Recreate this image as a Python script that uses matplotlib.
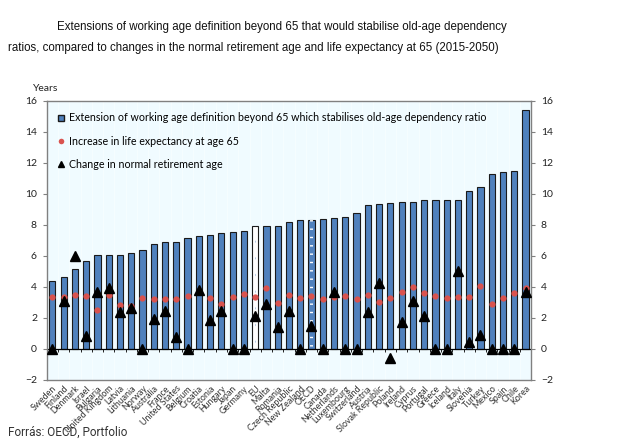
import numpy as np
import matplotlib
matplotlib.use("Agg")
import matplotlib.pyplot as plt
from matplotlib.lines import Line2D

# Données (années)
pays = ["Sweden", "Finland", "Denmark", "Israel", "Bulgaria", "United Kingdom",
        "Latvia", "Lithuania", "Norway", "Australia", "France", "United States",
        "Belgium", "Croatia", "Estonia", "Hungary", "Japan", "Germany", "EU",
        "Malta", "Romania", "Czech Republic", "New Zealand", "OECD", "Canada",
        "Netherlands", "Luxembourg", "Switzerland", "Austria", "Slovak Republic",
        "Poland", "Ireland", "Cyprus", "Portugal", "Greece", "Iceland", "Italy",
        "Slovenia", "Turkey", "Mexico", "Spain", "Chile", "Korea"]

extension = [4.39, 4.65, 5.16, 5.68, 6.06, 6.08, 6.08, 6.2, 6.39, 6.77, 6.9, 6.9,
             7.16, 7.31, 7.35, 7.46, 7.57, 7.63, 7.92, 7.92, 7.92, 8.19, 8.3, 8.34,
             8.36, 8.42, 8.48, 8.75, 9.27, 9.35, 9.4, 9.5, 9.5, 9.63, 9.63, 9.63,
             9.63, 10.21, 10.43, 11.27, 11.4, 11.5, 15.42]

esperance_vie = [3.37, 3.37, 3.48, 3.44, 2.52, 3.48, 2.82, 2.75, 3.31, 3.2, 3.2, 3.2,
                 3.44, 3.7, 3.27, 2.88, 3.33, 3.55, 3.33, 3.91, 2.95, 3.5, 3.29, 3.4,
                 3.23, 3.33, 3.4, 3.23, 3.5, 3.0, 3.27, 3.66, 4.02, 3.63, 3.44, 3.27,
                 3.38, 3.38, 4.06, 2.88, 3.27, 3.63, 3.92]

age_retraite = [0, 3.1, 6.0, 0.84, 3.66, 3.9, 2.41, 2.62, 0, 1.91, 2.45, 0.8,
                0, 3.8, 1.85, 2.43, 0, 0, 2.13, 2.88, 1.44, 2.47, 0, 1.48,
                0, 3.7, 0, 0, 2.41, 4.26, -0.56, 1.76, 3.1, 2.13, 0, 0,
                5.05, 0.43, 0.88, 0, 0, 0, 3.7]

titre_1 = "Extensions of working age definition beyond 65 that would stabilise old-age dependency"
titre_2 = "ratios, compared to changes in the normal retirement age and life expectancy at 65 (2015-2050)"

BLEU = "#4F81BD"
ROUGE = "#D9534F"
FOND = "#F0FBFF"

plt.rcParams['font.family'] = ['Lato', 'DejaVu Sans']

fig = plt.figure(figsize=(6.4, 4.46), dpi=100)
ax = fig.add_axes([0.073, 0.148, 0.757, 0.626])
ax.set_facecolor(FOND)

x = np.arange(len(pays))
couleurs = [BLEU] * len(pays)
couleurs[pays.index("EU")] = "white"
ax.bar(x, extension, width=0.55, color=couleurs, edgecolor="#1a1a1a",
       linewidth=0.8, zorder=2)
# OECD : barre hachurée, EU : barre blanche pointillée
i_oecd = pays.index("OECD")
ax.bar(x[i_oecd], extension[i_oecd], width=0.3, color="none", edgecolor="white",
       hatch="--", linewidth=0, zorder=2.5)
i_eu = pays.index("EU")
ax.bar(x[i_eu], extension[i_eu], width=0.08, color="none", edgecolor="#8fb0d8",
       hatch="..", linewidth=0, zorder=2.5)

ax.plot(x, esperance_vie, "o", color=ROUGE, markersize=4.5, markeredgewidth=0,
        zorder=3)
ax.plot(x, age_retraite, "^", color="black", markersize=7.3, zorder=4)

# Ligne zéro et petites graduations entre catégories
ax.axhline(0, color="black", linewidth=0.9, zorder=2.2)
ax.vlines(x[:-1] + 0.5, -0.2, 0, color="black", linewidth=0.6, zorder=2.2)

ax.set_xlim(-0.5, len(pays) - 0.5)
ax.set_ylim(-2, 16)
ax.set_yticks(np.arange(-2, 17, 2))
ax.set_xticks(x)
ax.set_xticklabels(pays, rotation=45, ha="right", rotation_mode="anchor",
                   fontsize=6.4, color="#333333")
ax.set_xticks(x[:-1] + 0.5, minor=True)
ax.grid(which="minor", axis="x", color="#F8FEFF", linewidth=0.5, zorder=0)
ax.tick_params(axis="x", which="both", length=0, pad=3)
ax.tick_params(axis="y", labelsize=7.5, length=3, color="#808080",
               labelcolor="#222222", labelright=True, right=True, pad=4)
for s in ax.spines.values():
    s.set_color("#808080")
    s.set_linewidth(1.0)

fig.text(0.052, 0.797, "Years", fontsize=7.5, color="#222222")

poignees = [Line2D([], [], marker="s", linestyle="", markerfacecolor=BLEU,
                   markeredgecolor="#1a1a1a", markersize=5),
            Line2D([], [], marker="o", linestyle="", color=ROUGE, markersize=4,
                   markeredgewidth=0),
            Line2D([], [], marker="^", linestyle="", color="black", markersize=5)]
etiquettes = ["Extension of working age definition beyond 65 which stabilises old-age dependency ratio",
              "Increase in life expectancy at age 65",
              "Change in normal retirement age"]
ax.legend(poignees, etiquettes, loc="upper left", bbox_to_anchor=(0.005, 0.985),
          frameon=False, fontsize=7.7, handlelength=0.8, handletextpad=0.4,
          labelspacing=1.15, borderaxespad=0.3)

fig.text(0.089, 0.94, titre_1, fontsize=8.3, family="Liberation Sans",
         color="#111111", va="center")
fig.text(0.012, 0.893, titre_2, fontsize=8.3, family="Liberation Sans",
         color="#111111", va="center")
fig.text(0.012, 0.022, "Forrás: OECD, Portfolio", fontsize=8.5, family="Roboto",
         color="#333333")

plt.savefig("out.png", dpi=100)
plt.close()
